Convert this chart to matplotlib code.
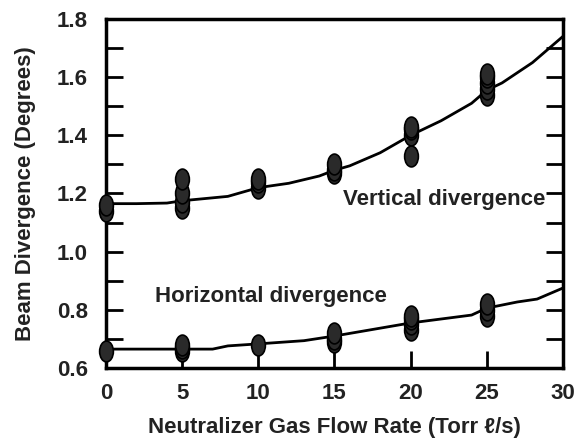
import numpy as np
import matplotlib.pyplot as plt
from matplotlib.path import Path
from matplotlib.transforms import Affine2D

# measured points (flow rate, divergence)
vert_x = [0, 0, 5, 5, 5, 5, 10, 10, 10, 15, 15, 15, 20, 20, 20, 20, 25, 25, 25, 25, 25]
vert_y = [1.14, 1.16, 1.15, 1.17, 1.20, 1.25, 1.22, 1.24, 1.25, 1.27, 1.28, 1.30,
          1.33, 1.40, 1.42, 1.43, 1.54, 1.56, 1.58, 1.60, 1.61]
horiz_x = [0, 5, 5, 5, 10, 15, 15, 15, 20, 20, 20, 20, 25, 25, 25]
horiz_y = [0.66, 0.66, 0.67, 0.68, 0.68, 0.69, 0.70, 0.72, 0.73, 0.75, 0.77, 0.78,
           0.78, 0.80, 0.82]

# fitted curves
vfit_x = [0, 2, 4, 5, 6, 7, 8, 10, 12, 14, 15, 16, 18, 20, 22, 24, 25, 26, 28, 30]
vfit_y = [1.165, 1.165, 1.167, 1.175, 1.18, 1.185, 1.19, 1.22, 1.235, 1.26, 1.28,
          1.295, 1.34, 1.40, 1.45, 1.51, 1.555, 1.58, 1.65, 1.74]
hfit_x = [0, 5, 7, 8, 10, 13, 15, 20, 24, 25, 27, 28.3, 30]
hfit_y = [0.665, 0.665, 0.665, 0.676, 0.683, 0.694, 0.71, 0.755, 0.782, 0.806,
          0.827, 0.837, 0.875]

x_ticks = [0, 5, 10, 15, 20, 25, 30]
y_ticks = [0.6, 0.8, 1.0, 1.2, 1.4, 1.6, 1.8]

plt.rcParams['font.family'] = ['Liberation Sans', 'DejaVu Sans']
plt.rcParams['font.weight'] = 'bold'

# tall ellipse marker
ellipse = Path.unit_circle().transformed(Affine2D().scale(0.66, 1.0))

fig = plt.figure(figsize=(5.84, 4.40), dpi=100)
ax = fig.add_axes([0.1815, 0.1636, 0.7825, 0.7934])

ax.plot(vfit_x, vfit_y, color='black', lw=2, zorder=2)
ax.plot(hfit_x, hfit_y, color='black', lw=2, zorder=2)
ax.plot(vert_x, vert_y, ls='none', marker=ellipse, ms=15, mfc='#2a2a2a', mec='black',
        mew=1.2, zorder=3, clip_on=False)
ax.plot(horiz_x, horiz_y, ls='none', marker=ellipse, ms=15, mfc='#2a2a2a', mec='black',
        mew=1.2, zorder=3, clip_on=False)

ax.text(15.55, 1.16, 'Vertical divergence', fontsize=16, fontweight='bold',
        color='#222222', va='baseline', ha='left')
ax.text(3.2, 0.827, 'Horizontal divergence', fontsize=16, fontweight='bold',
        color='#222222', va='baseline', ha='left')

ax.set_xlim(0, 30)
ax.set_ylim(0.6, 1.8)
ax.set_xticks(x_ticks)
ax.set_yticks(y_ticks)
ax.set_yticks(np.arange(0.6, 1.81, 0.1), minor=True)
ax.set_yticklabels([f'{v:.1f}' for v in y_ticks])

ax.tick_params(axis='y', which='both', direction='in', length=12, width=2,
               right=True, labelsize=16, pad=13)
ax.tick_params(axis='x', which='both', direction='in', length=12, width=2,
               top=False, labelsize=16, pad=11)
for lab in ax.get_xticklabels() + ax.get_yticklabels():
    lab.set_fontweight('bold')
    lab.set_color('#222222')

for s in ax.spines.values():
    s.set_linewidth(2.5)

ax.set_xlabel('Neutralizer Gas Flow Rate (Torr \u2113/s)', fontsize=16,
              fontweight='bold', color='#222222', labelpad=9)
ax.set_ylabel('Beam Divergence (Degrees)', fontsize=16, fontweight='bold',
              color='#222222', labelpad=15)

fig.savefig('out.png', dpi=100)
